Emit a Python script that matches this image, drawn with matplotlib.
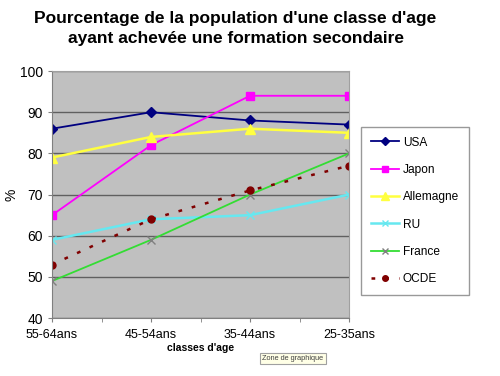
import matplotlib.pyplot as plt
import numpy as np

plt.rcParams['font.family'] = ['Liberation Sans', 'DejaVu Sans']

# Data
categories = ["55-64ans", "45-54ans", "35-44ans", "25-35ans"]
usa = [86, 90, 88, 87]
japon = [65, 82, 94, 94]
allemagne = [79, 84, 86, 85]
ru = [59, 64, 65, 70]
france = [49, 59, 70, 80]
ocde = [53, 64, 71, 77]

fig = plt.figure(figsize=(5, 3.76), dpi=100)
ax = fig.add_axes([0.104, 0.154, 0.594, 0.657])
ax.set_facecolor("#C0C0C0")

x = np.arange(len(categories))
ax.plot(x, usa, color="#000080", marker="D", markersize=5, lw=1.3, label="USA")
ax.plot(x, japon, color="#FF00FF", marker="s", markersize=6, lw=1.3, label="Japon")
ax.plot(x, allemagne, color="#FFFF40", marker="^", markersize=7, lw=1.8, label="Allemagne")
ax.plot(x, ru, color="#66E8F0", marker="x", markersize=6, lw=1.8, label="RU")
ax.plot(x, france, color="#33DD33", marker="x", markersize=6, mec="#808080", lw=1.3, label="France")
ax.plot(x, ocde, color="#800000", marker="o", markersize=5, lw=1.8, ls=(0, (1.5, 4)), label="OCDE")

ax.set_xlim(0, len(categories) - 1)
ax.set_ylim(40, 100)
ax.set_yticks(range(40, 101, 10))
ax.set_xticks(x)
ax.set_xticklabels(categories, fontsize=9)
ax.set_xticks(np.arange(0.5, len(categories) - 1, 1), minor=True)
ax.tick_params(axis="y", labelsize=10, length=3, color="#808080")
ax.tick_params(axis="x", which="both", length=3, color="#808080", pad=5)
ax.grid(axis="y", color="#606060", lw=1)
ax.set_axisbelow(True)
for s in ["top", "right"]:
    ax.spines[s].set_color("#A0A0A0")
for s in ["left", "bottom"]:
    ax.spines[s].set_color("#808080")

ax.set_ylabel("%", fontsize=10)
ax.yaxis.set_label_coords(-0.113, 0.5)
ax.set_xlabel("classes d'age", fontsize=7.5, fontweight="bold", labelpad=1)

fig.text(0.471, 0.972, "Pourcentage de la population d'une classe d'age\nayant achevée une formation secondaire",
         ha="center", va="top", fontsize=12.5, fontweight="bold", linespacing=1.45)

leg = fig.legend(loc="upper left", bbox_to_anchor=(0.722, 0.662), borderaxespad=0, fontsize=8.6,
                 frameon=True, fancybox=False, edgecolor="#808080", markerscale=0.8,
                 handlelength=2.4, labelspacing=1.28, borderpad=0.8, handletextpad=0.3)
leg.get_frame().set_linewidth(1)

fig.text(0.525, 0.042, "Zone de graphique", fontsize=5.3, color="#404040",
         bbox=dict(boxstyle="square,pad=0.3", fc="#FFFFE6", ec="#A0A0A0", lw=0.8))

fig.savefig("out.png", dpi=100, facecolor="white")
